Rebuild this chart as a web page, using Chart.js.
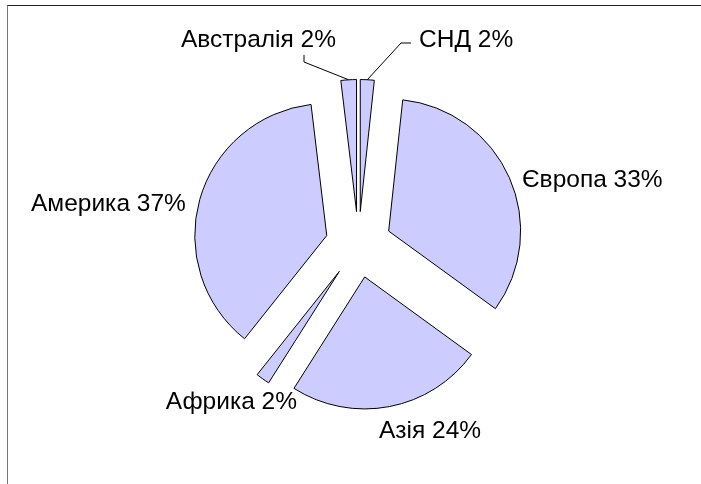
<!DOCTYPE html>
<html><head><meta charset="utf-8">
<script src="https://cdn.jsdelivr.net/npm/chart.js@4"></script>
<style>
html,body{margin:0;padding:0;background:#fff;}
#wrap{position:relative;width:701px;height:484px;overflow:hidden;}
canvas{position:absolute;left:0;top:0;}
#frame{position:absolute;left:7px;top:5px;width:800px;height:600px;border-top:1px solid #222;border-left:1px solid #777;pointer-events:none;}
</style></head><body>
<div id="wrap"><canvas id="c" width="701" height="484"></canvas><div id="frame"></div></div>
<script>
// ---- data ----
const categories = ['СНД', 'Європа', 'Азія', 'Африка', 'Америка', 'Австралія'];
const shares = [1.7, 33.3, 24.0, 1.7, 37.4, 1.9];

// ---- layout / style ----
const R = 132;          // pie radius (px)
const EXPLODE = 33;     // explosion distance (px)
const FONT = '24.5px "Liberation Sans", Arial, sans-serif';
const labelLayout = [
  {x: 419, y: 47, align: 'left', leader: [[411, 43], [401, 43]]},
  {x: 522, y: 187, align: 'left'},
  {x: 379, y: 438, align: 'left'},
  {x: 297, y: 409, align: 'right'},
  {x: 31, y: 211, align: 'left'},
  {x: 181, y: 47, align: 'left', leader: [[304, 55], [304, 62]]}
];

const total = shares.reduce((a, b) => a + b, 0);

// explode every slice by the same distance along its mid angle
const equalExplode = {
  id: 'equalExplode',
  beforeDatasetsDraw(chart) {
    const a = chart.chartArea;
    const cx = (a.left + a.right) / 2, cy = (a.top + a.bottom) / 2;
    chart.getDatasetMeta(0).data.forEach(arc => {
      const mid = (arc.startAngle + arc.endAngle) / 2;
      arc.x = cx + Math.cos(mid) * EXPLODE;
      arc.y = cy + Math.sin(mid) * EXPLODE;
      arc.outerRadius = R;
    });
  }
};

const pieLabels = {
  id: 'pieLabels',
  afterDatasetsDraw(chart) {
    const ctx = chart.ctx;
    ctx.save();
    ctx.font = FONT;
    ctx.fillStyle = '#000';
    ctx.textBaseline = 'alphabetic';
    chart.getDatasetMeta(0).data.forEach((arc, i) => {
      const lay = labelLayout[i];
      const text = categories[i] + ' ' + Math.round(shares[i] / total * 100) + '%';
      ctx.textAlign = lay.align;
      ctx.fillText(text, lay.x, lay.y);
      if (lay.leader) {
        const mid = (arc.startAngle + arc.endAngle) / 2;
        const ex = arc.x + Math.cos(mid) * R;
        const ey = arc.y + Math.sin(mid) * R;
        ctx.beginPath();
        ctx.strokeStyle = '#000';
        ctx.lineWidth = 1;
        ctx.moveTo(lay.leader[0][0], lay.leader[0][1]);
        for (let k = 1; k < lay.leader.length; k++) ctx.lineTo(lay.leader[k][0], lay.leader[k][1]);
        ctx.lineTo(ex, ey);
        ctx.stroke();
      }
    });
    ctx.restore();
  }
};

new Chart(document.getElementById('c'), {
  type: 'pie',
  data: {
    labels: categories,
    datasets: [{
      data: shares,
      backgroundColor: '#ccccff',
      borderColor: '#000',
      borderWidth: 1,
      borderJoinStyle: 'miter',
      offset: 0,
      hoverOffset: 0,
      radius: R
    }]
  },
  options: {
    responsive: false,
    animation: false,
    events: [],
    rotation: 0,
    layout: {padding: {left: 16, right: 0, top: 5, bottom: 0}},
    plugins: {legend: {display: false}, tooltip: {enabled: false}}
  },
  plugins: [equalExplode, pieLabels]
});
</script>
</body></html>
